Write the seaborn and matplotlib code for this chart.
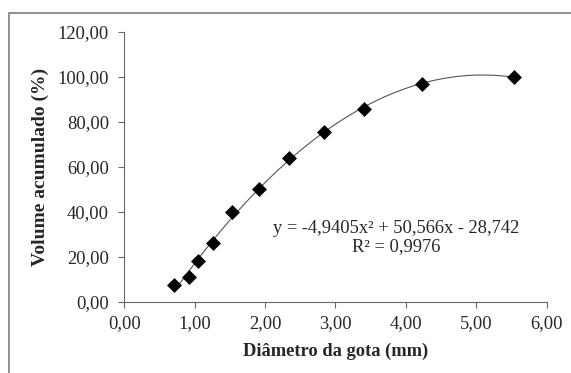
import numpy as np
import pandas as pd
import seaborn as sns
from matplotlib import pyplot as plt
from matplotlib.patches import Rectangle

# Data
diametro = [0.71, 0.92, 1.05, 1.26, 1.53, 1.91, 2.34, 2.83, 3.41, 4.23, 5.54]
volume = [7.2, 10.9, 17.9, 25.9, 39.9, 50.3, 63.7, 75.5, 85.5, 96.8, 100.0]

x_ticks = [0, 1, 2, 3, 4, 5, 6]
x_labels = ['0,00', '1,00', '2,00', '3,00', '4,00', '5,00', '6,00']
y_ticks = [0, 20, 40, 60, 80, 100, 120]
y_labels = ['0,00', '20,00', '40,00', '60,00', '80,00', '100,00', '120,00']

equacao = 'y = -4,9405x² + 50,566x - 28,742\nR² = 0,9976'

df = pd.DataFrame({'diametro': diametro, 'volume': volume})

sns.set_style('white')
plt.rcParams['font.family'] = ['Liberation Serif', 'DejaVu Serif']

fig = plt.figure(figsize=(5.71, 3.73), dpi=100)
ax = fig.add_axes([0.2177, 0.1912, 0.9574 - 0.2177, 0.915 - 0.1912])

sns.regplot(data=df, x='diametro', y='volume', order=2, ci=None, ax=ax,
            marker='D', color='black',
            scatter_kws={'s': 58, 'linewidths': 0, 'alpha': 1, 'zorder': 3},
            line_kws={'color': '#555555', 'lw': 0.8, 'zorder': 2})

ax.set_xlim(0, 6)
ax.set_ylim(0, 120)
ax.set_xticks(x_ticks)
ax.set_xticklabels(x_labels)
ax.set_yticks(y_ticks)
ax.set_yticklabels(y_labels)
ax.tick_params(axis='both', direction='out', length=4, width=0.8,
               color='#666666', labelsize=13.3, bottom=True, left=True)
ax.tick_params(axis='x', pad=6)
ax.tick_params(axis='y', pad=7)

for side in ['top', 'right']:
    ax.spines[side].set_visible(False)
for side in ['left', 'bottom']:
    ax.spines[side].set_color('#666666')
    ax.spines[side].set_linewidth(0.8)

ax.set_xlabel('Diâmetro da gota (mm)', fontsize=13.3, fontweight='bold', labelpad=7)
ax.set_ylabel('Volume acumulado (%)', fontsize=14, fontweight='bold', labelpad=6)

ax.text(3.86, 28.5, equacao, ha='center', va='center', fontsize=13.3,
        linespacing=1.05)

# outer chart-area border (clipped on right and bottom)
fig.patches.append(Rectangle((9 / 571, -0.05), 1.2, 1 - 12.5 / 373 + 0.05,
                             transform=fig.transFigure, fill=False,
                             edgecolor='#888888', lw=1.3))

plt.savefig('out.png', dpi=100)
